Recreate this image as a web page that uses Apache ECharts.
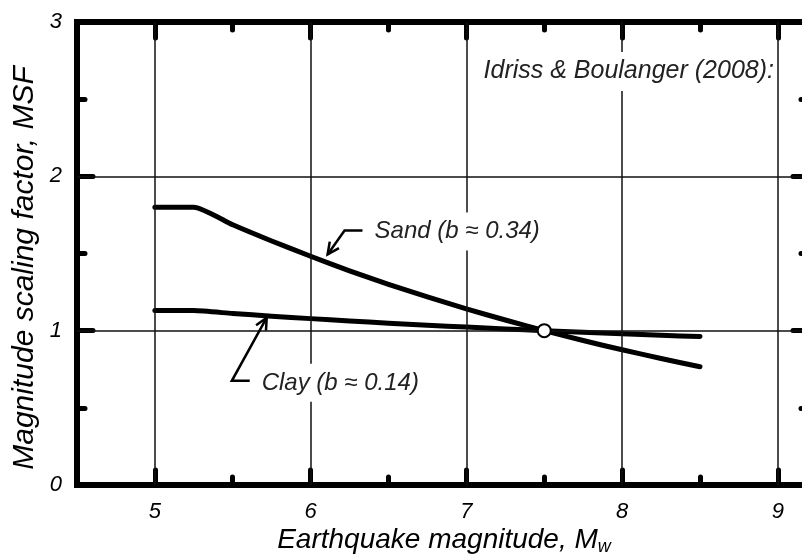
<!DOCTYPE html>
<html><head><meta charset="utf-8">
<script src="https://cdn.jsdelivr.net/npm/echarts@6/dist/echarts.min.js"></script>
<style>html,body{margin:0;padding:0;background:#fff}#c{width:802px;height:560px}</style>
</head><body><div id="c"></div>
<script>
// ---- data ----
const magnitudes = [5.0, 5.25, 5.5, 5.75, 6.0, 6.25, 6.5, 6.75, 7.0, 7.25, 7.5, 7.75, 8.0, 8.25, 8.5];
const sandMSF    = [1.80, 1.80, 1.686, 1.581, 1.482, 1.388, 1.300, 1.219, 1.141, 1.069, 1.000, 0.936, 0.876, 0.820, 0.766];
const clayMSF    = [1.13, 1.13, 1.111, 1.094, 1.078, 1.063, 1.048, 1.035, 1.023, 1.011, 1.000, 0.989, 0.980, 0.970, 0.962];
const referencePoint = [7.5, 1.0];
const xMajor = [5, 6, 7, 8, 9];
const xMinor = [5.5, 6.5, 7.5, 8.5];
const yLabels = [0, 1, 2, 3];
const yMajor = [1, 2];
const yMinor = [0.5, 1.5, 2.5];
const xRange = [4.5, 9.2];
const yRange = [0, 3];
const sandLabel = 'Sand (b ≈ 0.34)';
const clayLabel = 'Clay (b ≈ 0.14)';
const sourceLabel = 'Idriss & Boulanger (2008):';
// annotation anchors (data coordinates)
const sandArrow = [[6.333, 1.649], [6.218, 1.649], [6.109, 1.494]];
const clayArrow = [[5.609, 0.675], [5.494, 0.675], [5.718, 1.084]];
const sandTextAt = [6.385, 1.643];
const clayTextAt = [5.660, 0.662];
const sourceTextAt = [8.975, 2.68];

const FONT = '"Liberation Sans", Arial, sans-serif';
const pair = (xs, ys) => xs.map((x, i) => [x, ys[i]]);

function axisX(pos, ticks, len, showLine, labels) {
  return {
    type: 'value', position: pos, min: xRange[0], max: xRange[1],
    axisLine: { show: showLine, onZero: false, lineStyle: { color: '#000', width: 6, cap: 'square' } },
    axisTick: { show: true, inside: true, length: len, customValues: ticks,
      lineStyle: { color: '#000', width: 5, cap: 'round' } },
    axisLabel: labels ? { show: true, customValues: labels, margin: 16, color: '#000',
      fontSize: 22, fontStyle: 'italic', fontFamily: FONT } : { show: false },
    splitLine: { show: false }
  };
}
function axisY(pos, ticks, len, showLine, labels) {
  return {
    type: 'value', position: pos, min: yRange[0], max: yRange[1],
    axisLine: { show: showLine, onZero: false, lineStyle: { color: '#000', width: 6, cap: 'square' } },
    axisTick: { show: true, inside: true, length: len, customValues: ticks,
      lineStyle: { color: '#000', width: 5, cap: 'round' } },
    axisLabel: labels ? { show: true, customValues: labels, margin: 15, color: '#000',
      fontSize: 22, fontStyle: 'italic', fontFamily: FONT } : { show: false },
    splitLine: { show: false }
  };
}

const chart = echarts.init(document.getElementById('c'), null, { renderer: 'canvas' });
const option = {
  animation: false,
  backgroundColor: '#fff',
  grid: { left: 77, top: 22, width: 732, height: 463, containLabel: false, outerBoundsMode: 'none' },
  xAxis: [
    axisX('bottom', xMajor, 15, true, xMajor),
    axisX('bottom', xMinor, 8, false, null),
    axisX('top', xMajor, 16, true, null),
    axisX('top', xMinor, 8, false, null)
  ],
  yAxis: [
    axisY('left', yMajor, 16, true, yLabels),
    axisY('left', yMinor, 8, false, null),
    axisY('right', yMajor, 16, true, null),
    axisY('right', yMinor, 8, false, null)
  ],
  series: [
    {
      type: 'line', data: [], z: 1, silent: true,
      markLine: {
        silent: true, symbol: ['none', 'none'], label: { show: false },
        lineStyle: { color: '#111', width: 1.5, type: 'solid' },
        data: xMajor.map(v => ({ xAxis: v })).concat(yMajor.map(v => ({ yAxis: v })))
      }
    },
    { type: 'line', data: pair(magnitudes, sandMSF), showSymbol: false, symbol: 'none', z: 3,
      smooth: 0.2,
      lineStyle: { color: '#000', width: 5, cap: 'round', join: 'round' } },
    { type: 'line', data: pair(magnitudes, clayMSF), showSymbol: false, symbol: 'none', z: 3,
      smooth: 0.2,
      lineStyle: { color: '#000', width: 5, cap: 'round', join: 'round' } },
    { type: 'scatter', data: [referencePoint], symbol: 'circle', symbolSize: 13, z: 5,
      itemStyle: { color: '#fff', borderColor: '#000', borderWidth: 2, opacity: 1 } }
  ]
};
chart.setOption(option);

const px = p => chart.convertToPixel({ gridIndex: 0 }, p);
function arrow(ptsData) {
  const pts = ptsData.map(px);
  const tip = pts[pts.length - 1], prev = pts[pts.length - 2];
  const ang = Math.atan2(tip[1] - prev[1], tip[0] - prev[0]);
  const L = 13, a = 0.45;
  const h1 = [tip[0] - L * Math.cos(ang - a), tip[1] - L * Math.sin(ang - a)];
  const h2 = [tip[0] - L * Math.cos(ang + a), tip[1] - L * Math.sin(ang + a)];
  return [
    { type: 'polyline', z: 50, shape: { points: pts }, style: { stroke: '#000', lineWidth: 2.5, fill: null } },
    { type: 'polyline', z: 50, shape: { points: [h1, tip, h2] }, style: { stroke: '#000', lineWidth: 2.5, fill: null } }
  ];
}
function label(text, at, align, size, pad) {
  const p = px(at);
  return { type: 'text', z: 40, x: p[0], y: p[1],
    style: { text: text, fill: '#222', font: 'italic ' + size + 'px ' + FONT, align: align, verticalAlign: 'middle',
      backgroundColor: '#fff', padding: pad } };
}
chart.setOption({
  graphic: [
    label(sourceLabel, sourceTextAt, 'right', 25, [7, 0, 7, 4]),
    label(sandLabel, sandTextAt, 'left', 24, [7, 4]),
    label(clayLabel, clayTextAt, 'left', 24, [7, 4]),
    ...arrow(sandArrow),
    ...arrow(clayArrow),
    { type: 'text', z: 40, x: 25, y: 268, rotation: Math.PI / 2,
      style: { text: 'Magnitude scaling factor, MSF', fill: '#000', font: 'italic 30px ' + FONT,
        align: 'center', verticalAlign: 'middle' } },
    { type: 'text', z: 40, x: 444, y: 540,
      style: { text: '{a|Earthquake magnitude, M}{b|w}', align: 'center', verticalAlign: 'middle',
        rich: { a: { fill: '#000', font: 'italic 28px ' + FONT },
                b: { fill: '#000', font: 'italic 18px ' + FONT, padding: [14, 0, 0, 0] } } } }
  ]
});
</script></body></html>
